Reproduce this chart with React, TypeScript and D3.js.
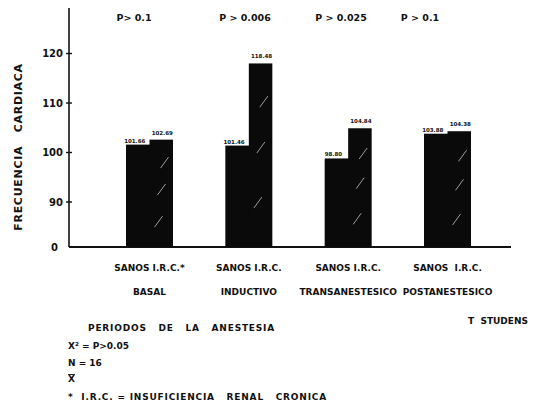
import React from "react";
import * as d3 from "d3";

const periods = ["BASAL", "INDUCTIVO", "TRANSANESTESICO", "POSTANESTESICO"];
const groupLabels = ["SANOS I.R.C.*", "SANOS I.R.C.", "SANOS I.R.C.", "SANOS  I.R.C."];
const sanos = [101.6, 101.4, 98.8, 103.8];
const irc = [102.6, 118.0, 104.9, 104.3];
const sanosLabels = ["101.66", "101.46", "98.80", "103.88"];
const ircLabels = ["102.69", "118.48", "104.84", "104.38"];
const pValues = ["P> 0.1", "P > 0.006", "P > 0.025", "P > 0.1"];
const yTicks = [90, 100, 110, 120];

const W = 545;
const H = 406;
const FONT = "'DejaVu Sans', 'Liberation Sans', sans-serif";

export default function App() {
  const y = d3.scaleLinear().domain([0, 90, 129.2]).range([247, 202, 8]);
  const x = d3.scalePoint<string>().domain(periods).range([149.5, 447.5]);
  const bw = 23.5;
  const axisX = 69;
  const base = y(0);
  const pX = [134, 245, 341, 420];
  const pre = { whiteSpace: "pre" as const };

  return (
    <svg
      width={W}
      height={H}
      style={{ position: "absolute", left: 0, top: 0, background: "#fff" }}
      fontFamily={FONT}
      fontWeight="bold"
    >
      {/* P values */}
      {pValues.map((p, i) => (
        <text key={"p" + i} x={pX[i]} y={21} fontSize={9.5} textAnchor="middle" fill="#111" style={pre}>
          {p}
        </text>
      ))}
      {/* Y axis */}
      <line x1={axisX} x2={axisX} y1={y(129.2)} y2={base} stroke="#111" strokeWidth={1.6} />
      {yTicks.map((t) => (
        <g key={t}>
          <line x1={axisX - 3} x2={axisX + 3} y1={y(t)} y2={y(t)} stroke="#111" strokeWidth={1.4} />
          <text x={axisX - 6} y={y(t) + 3.5} fontSize={10} textAnchor="end" fill="#111">
            {t}
          </text>
        </g>
      ))}
      <text x={axisX - 11} y={base + 3.5} fontSize={10} textAnchor="end" fill="#111">
        0
      </text>
      {/* baseline */}
      <line x1={axisX} x2={511} y1={base} y2={base} stroke="#111" strokeWidth={1.8} />
      {/* Y label */}
      <text
        transform={`translate(22,${147}) rotate(-90)`}
        fontSize={11}
        textAnchor="middle"
        fill="#111"
        letterSpacing={0.7}
        style={pre}
      >
        {"FRECUENCIA   CARDIACA"}
      </text>
      {/* Bars */}
      {periods.map((p, i) => {
        const cx = x(p) as number;
        const xs = cx - bw;
        const xi = cx;
        return (
          <g key={p}>
            <rect x={xs} y={y(sanos[i])} width={bw + 1} height={base - y(sanos[i])} fill="#0a0a0a" />
            <rect x={xi} y={y(irc[i])} width={bw} height={base - y(irc[i])} fill="#0a0a0a" />
            {[0.25, 0.55, 0.8].map((f, k) => (
              <line
                key={k}
                x1={xi + 5 + k * 3}
                x2={xi + 13 + k * 3}
                y1={base - (base - y(irc[i])) * f + 7}
                y2={base - (base - y(irc[i])) * f - 4}
                stroke="#fff"
                strokeWidth={1}
                opacity={0.6}
              />
            ))}
            <text x={xs + bw / 2 - 3} y={y(sanos[i]) - 2} fontSize={5.5} textAnchor="middle" fill="#111">
              {sanosLabels[i]}
            </text>
            <text x={xi + bw / 2 + 1} y={y(irc[i]) - 5} fontSize={5.5} textAnchor="middle" fill="#111">
              {ircLabels[i]}
            </text>
            <text x={cx} y={271} fontSize={9} textAnchor="middle" fill="#111" style={pre}>
              {groupLabels[i]}
            </text>
            <text x={cx} y={295} fontSize={9} textAnchor="middle" fill="#111">
              {p}
            </text>
          </g>
        );
      })}
      {/* Footer */}
      <text x={88} y={331} fontSize={9} fill="#111" letterSpacing={0.8} style={pre}>
        {"PERIODOS   DE   LA   ANESTESIA"}
      </text>
      <text x={468} y={324} fontSize={9} fill="#111" style={pre}>
        {"T  STUDENS"}
      </text>
      <text x={68} y={349} fontSize={9} fill="#111" style={pre}>
        {"X² = P>0.05"}
      </text>
      <text x={68} y={366} fontSize={9} fill="#111" style={pre}>
        {"N = 16"}
      </text>
      <text x={68} y={382} fontSize={9} fill="#111" textDecoration="overline">
        X
      </text>
      <text x={68} y={400} fontSize={9} fill="#111" letterSpacing={0.8} style={pre}>
        {"*  I.R.C. = INSUFICIENCIA   RENAL   CRONICA"}
      </text>
    </svg>
  );
}
